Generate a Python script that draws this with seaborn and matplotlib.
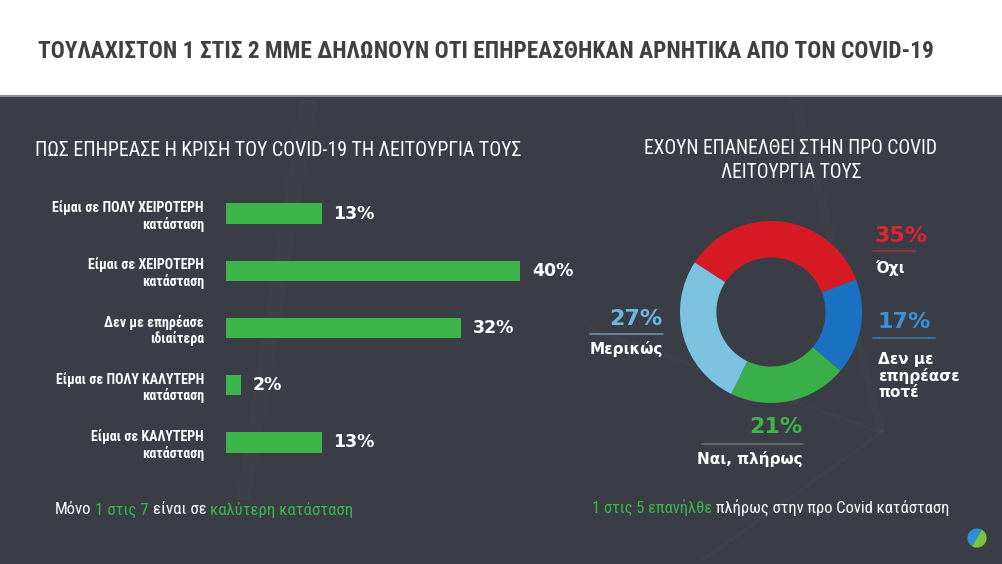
import matplotlib
matplotlib.use("Agg")
import matplotlib.pyplot as plt
import seaborn as sns
import pandas as pd
from matplotlib import font_manager as fm
from matplotlib.patches import Rectangle, Polygon
from matplotlib.lines import Line2D

# ---------------- data ----------------
title = "ΤΟΥΛΑΧΙΣΤΟΝ 1 ΣΤΙΣ 2 ΜΜΕ ΔΗΛΩΝΟΥΝ ΟΤΙ ΕΠΗΡΕΑΣΘΗΚΑΝ ΑΡΝΗΤΙΚΑ ΑΠΟ ΤΟΝ COVID-19"
left_title = "ΠΩΣ ΕΠΗΡΕΑΣΕ Η ΚΡΙΣΗ ΤΟΥ COVID-19 ΤΗ ΛΕΙΤΟΥΡΓΙΑ ΤΟΥΣ"
right_title = ["ΕΧΟΥΝ ΕΠΑΝΕΛΘΕΙ ΣΤΗΝ ΠΡΟ COVID", "ΛΕΙΤΟΥΡΓΙΑ ΤΟΥΣ"]

bar_categories = [
    "Είμαι σε ΠΟΛΥ ΧΕΙΡΟΤΕΡΗ\nκατάσταση",
    "Είμαι σε ΧΕΙΡΟΤΕΡΗ\nκατάσταση",
    "Δεν με επηρέασε\nιδιαίτερα",
    "Είμαι σε ΠΟΛΥ ΚΑΛΥΤΕΡΗ\nκατάσταση",
    "Είμαι σε ΚΑΛΥΤΕΡΗ\nκατάσταση",
]
bar_values = [13, 40, 32, 2, 13]

donut_labels = ["Όχι", "Δεν με\nεπηρέασε\nποτέ", "Ναι, πλήρως", "Μερικώς"]
donut_values = [35, 17, 21, 27]

left_note = [("Μόνο", "w"), ("1 στις 7", "g"), ("είναι σε", "w"), ("καλύτερη κατάσταση", "g")]
right_note = [("1 στις 5 επανήλθε", "g"), ("πλήρως στην προ Covid κατάσταση", "w")]

# ---------------- style ----------------
BG = "#3a3d45"
GREEN = "#3db54a"
WHITE = "#ffffff"
RED = "#d71b26"
BLUE = "#1b72c3"
LBLUE = "#7cc3e2"
DGREEN = "#3aae48"
donut_colors = [RED, BLUE, DGREEN, LBLUE]
label_colors = ["#e2222f", "#3a92d8", "#3cb54a", "#6cb9e0"]

names = {f.name for f in fm.fontManager.ttflist}
def pick(cands, default="DejaVu Sans"):
    for c in cands:
        if c in names:
            return c
    return default
COND = pick(["Roboto Condensed", "Liberation Sans Narrow", "Open Sans Condensed", "Roboto"])
ROUND = pick(["DejaVu Sans"])

sns.set_theme(style="white")
plt.rcParams["font.family"] = ["DejaVu Sans"]

W, H = 1003, 564
fig = plt.figure(figsize=(W / 100, H / 100), dpi=100)
fig.patch.set_facecolor(BG)
r = fig.canvas.get_renderer()

def fx(x): return x / W
def fy(y): return 1 - y / H

# white top band
fig.add_artist(Rectangle((0, fy(96)), 1, 96 / H, transform=fig.transFigure,
                         facecolor="white", edgecolor="none", zorder=0))
fig.add_artist(Line2D([0, 1], [fy(96), fy(96)], transform=fig.transFigure,
                      color="#8c8f96", lw=1.5, zorder=1))

# faint decorative streaks
for pts in [[(790, 100), (800, 100), (885, 432), (878, 432)],
            [(585, 330), (590, 326), (885, 432), (880, 434)],
            [(700, 560), (706, 560), (885, 432), (882, 430)],
            [(300, 100), (318, 100), (250, 500), (236, 500)]]:
    fig.add_artist(Polygon([(fx(a), fy(b)) for a, b in pts], closed=True,
                           transform=fig.transFigure, facecolor="white",
                           edgecolor="none", alpha=0.02, zorder=0))

def width_of(s, size, family, weight):
    t = fig.text(0, 0, s, fontsize=size, family=family, fontweight=weight)
    w = t.get_window_extent(renderer=r).width
    t.remove()
    return w

def fit_text(x, y, s, target_w, family, weight, color, ha="left", va="center"):
    size = 20 * target_w / width_of(s, 20, family, weight)
    return fig.text(fx(x), fy(y), s, fontsize=size, family=family,
                    fontweight=weight, color=color, ha=ha, va=va)

def runs(x, y, pieces, target_w, family, weight):
    cmap = {"w": WHITE, "g": GREEN}
    s0 = 20
    sp0 = width_of("x x", s0, family, weight) - width_of("xx", s0, family, weight)
    total = sum(width_of(p, s0, family, weight) for p, _ in pieces) + sp0 * (len(pieces) - 1)
    size = s0 * target_w / total
    sp = sp0 * size / s0
    cx = x
    for p, c in pieces:
        fig.text(fx(cx), fy(y), p, fontsize=size, family=family, fontweight=weight,
                 color=cmap[c], ha="left", va="center")
        cx += width_of(p, size, family, weight) + sp

# titles
fit_text(38, 52, title, 894, COND, "bold", "#404040")
fit_text(35, 150, left_title, 487, COND, "normal", WHITE)
fit_text(791, 149, right_title[0], 293, COND, "normal", WHITE, ha="center")
t2size = 20 * 293 / width_of(right_title[0], 20, COND, "normal")
fig.text(fx(791), fy(172), right_title[1], fontsize=t2size, family=COND,
         color=WHITE, ha="center", va="center")

# ---------------- bar chart ----------------
df = pd.DataFrame({"cat": bar_categories, "val": bar_values})
px_per_unit = 294 / 40
xmax = 50
ax = fig.add_axes([fx(226), fy(471), xmax * px_per_unit / W, 286 / H])
ax.set_facecolor("none")
sns.barplot(data=df, x="val", y="cat", orient="h", color=GREEN, saturation=1,
            width=0.36, ax=ax, edgecolor="none", linewidth=0)
ax.set_xlim(0, xmax)
ax.set_ylim(len(bar_values) - 0.5, -0.5)
for sp in ax.spines.values():
    sp.set_visible(False)
ax.set_xticks([])
ax.set_xlabel("")
ax.set_ylabel("")
lab_size = 20 * 152 / width_of(bar_categories[0].split("\n")[0], 20, COND, "bold")
ax.set_yticks(range(len(bar_categories)))
ax.set_yticklabels(bar_categories, family=COND, fontweight="bold",
                   fontsize=lab_size, color=WHITE, ha="right", linespacing=1.15)
ax.tick_params(axis="y", length=0, pad=16)
for i, v in enumerate(bar_values):
    ax.text(v + 12 / px_per_unit, i, f"{v}%", va="center", ha="left",
            color=WHITE, fontweight="bold", fontsize=12.5, family=ROUND)

# ---------------- donut ----------------
R = 91
cx, cy = 771, 312
ax2 = fig.add_axes([fx(cx - R), fy(cy + R), 2 * R / W, 2 * R / H])
ax2.pie(donut_values, colors=donut_colors, startangle=147, counterclock=False,
        radius=1, wedgeprops=dict(width=0.4, edgecolor="none"))
ax2.set_xlim(-1, 1)
ax2.set_ylim(-1, 1)
ax2.set_aspect("equal")
ax2.axis("off")

# value/label annotations: (x, y_val, y_line, y_lab, ha, line x0, x1)
ann = [
    (875, 236, 251, 268, "left", 873, 915, "#b0323c"),
    (878, 322, 338, 376, "left", 873, 935, "#3f7fb8"),
    (803, 427, 444, 459, "right", 702, 803, "#6b7a72"),
    (663, 319, 334, 349, "right", 590, 663, "#6f9fb8"),
]
for (x, yv, yl, yt, ha, x0, x1, lc), v, lab, col in zip(ann, donut_values, donut_labels, label_colors):
    fig.text(fx(x), fy(yv), f"{v}%", color=col, fontsize=16, fontweight="bold",
             family=ROUND, ha=ha, va="center")
    fig.add_artist(Line2D([fx(x0), fx(x1)], [fy(yl), fy(yl)], transform=fig.transFigure,
                          color=lc, lw=1.2, alpha=0.9))
    fig.text(fx(x), fy(yt), lab, color=WHITE, fontsize=11, fontweight="bold",
             family=ROUND, ha=ha, va="center", linespacing=1.1)

# ---------------- notes ----------------
runs(55, 510, left_note, 297, COND, "normal")
runs(592, 508, right_note, 356, COND, "normal")

# logo
ax3 = fig.add_axes([fx(965), fy(550), 24 / W, 24 / H])
ax3.pie([50, 50], colors=["#2f8fd6", "#7cc242"], startangle=60,
        wedgeprops=dict(edgecolor="none"))
ax3.set_aspect("equal")
ax3.axis("off")

fig.savefig("out.png", dpi=100, facecolor=fig.get_facecolor())
